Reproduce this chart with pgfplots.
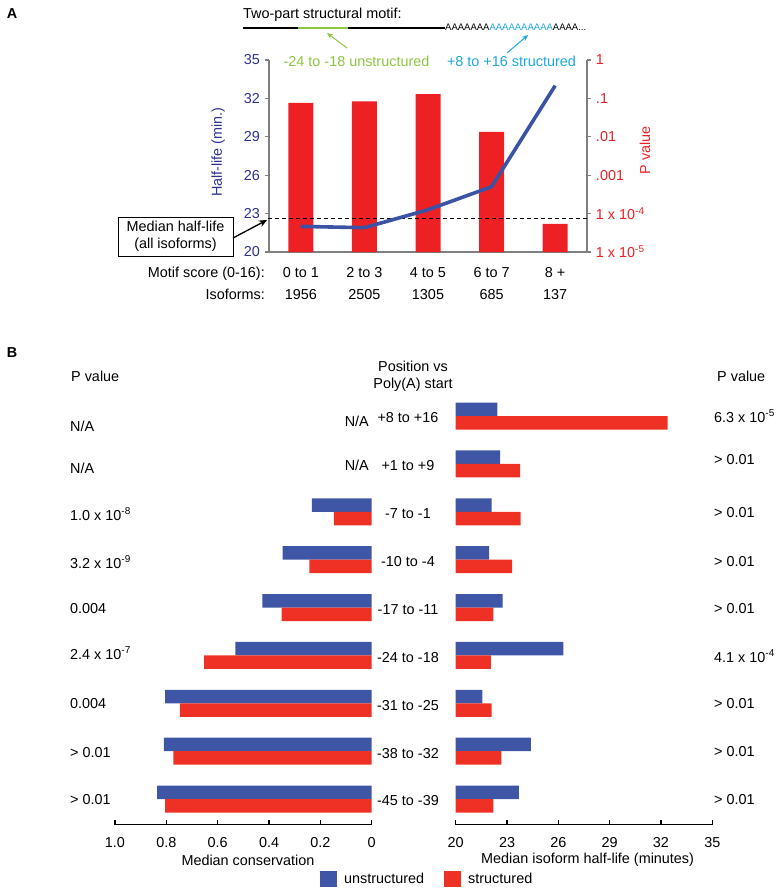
\documentclass[border=0pt]{standalone}
\usepackage{fontspec}
\setmainfont{Liberation Sans}
\usepackage{pgfplots}
\pgfplotsset{compat=1.18}
\usetikzlibrary{arrows.meta}
\definecolor{lineblue}{RGB}{58,83,164}
\definecolor{navy}{RGB}{46,49,146}
\definecolor{pred}{RGB}{237,32,36}
\definecolor{barblue}{RGB}{63,86,166}
\definecolor{barred}{RGB}{238,49,36}
\definecolor{motifgreen}{RGB}{141,198,63}
\definecolor{motifcyan}{RGB}{27,168,224}
\newcommand{\fs}{\fontsize{14.4}{17}\selectfont}
\newcommand{\sups}[1]{\textsuperscript{#1}}
\begin{document}
\fs
\begin{tikzpicture}[every node/.append style={font=\fs}]
\path[use as bounding box] (0pt,0pt) rectangle (781pt,-892pt);
% panel labels
\node[font=\fs\bfseries] at (12pt,-14pt) {A};
\node[font=\fs\bfseries] at (12pt,-353pt) {B};

% ---------------- motif diagram ----------------
\node[anchor=base west, inner sep=0pt, font=\fs] at (243pt,-18pt) {Two-part structural motif:};
\draw[line width=2pt] (243pt,-28pt) -- (298pt,-28pt);
\draw[line width=2pt, motifgreen] (298pt,-28pt) -- (348pt,-28pt);
\draw[line width=2pt] (348pt,-28pt) -- (445pt,-28pt);
\node[anchor=base west, inner sep=0pt, font=\fontsize{9.5}{11}\selectfont] at (445pt,-30.5pt) {AAAAAAA\textcolor{motifcyan}{AAAAAAAAAA}AAAA...};
\draw[motifgreen, line width=1pt, -{Stealth[length=6pt,width=5pt]}] (347pt,-48pt) -- (327pt,-33pt);
\draw[motifcyan, line width=1pt, -{Stealth[length=6pt,width=5pt]}] (507pt,-53pt) -- (528pt,-35pt);
\node[text=motifgreen, anchor=base, inner sep=0pt] at (356.5pt,-66.2pt) {-24 to -18 unstructured};
\node[text=motifcyan, anchor=base, inner sep=0pt] at (511.5pt,-66.2pt) {+8 to +16 structured};

% ---------------- panel A: P value bars (right axis) ----------------
\begin{axis}[
  at={(269pt,-60pt)}, anchor=north west,
  scale only axis, width=318pt, height=192pt,
  xmin=-0.5, xmax=4.5,
  ymode=log, log origin=infty, ymin=1e-5, ymax=1,
  axis x line*=bottom, axis y line*=right,
  axis line style={draw=gray, line width=1.2pt},
  ytick={1e-5,1e-4,1e-3,1e-2,1e-1,1},
  yticklabels={1 x 10\sups{-5},1 x 10\sups{-4},.001,.01,.1,1},
  yminorticks=false,
  yticklabel style={text=pred},
  ytick style={draw=gray, line width=1.2pt},
  xtick style={draw=none},
  major tick length=4pt, tick align=outside,
  xtick={0,1,2,3,4},
  xticklabels={{0 to 1\\1956},{2 to 3\\2505},{4 to 5\\1305},{6 to 7\\685},{8 +\\137}},
  xticklabel style={align=center, font=\fontsize{14.4}{22}\selectfont, anchor=center, yshift=-27.5pt},
  ylabel={P value},
  ylabel style={text=pred, at={(axis description cs:1.182,0.53)}, anchor=center},
]
\addplot[ybar, bar width=25pt, fill=pred, draw=none] coordinates {(0,0.077) (1,0.084) (2,0.13) (3,0.0135) (4,5.4e-5)};
\end{axis}

% ---------------- panel A: half-life line (left axis) ----------------
\begin{axis}[
  at={(269pt,-60pt)}, anchor=north west,
  scale only axis, width=318pt, height=192pt,
  xmin=-0.5, xmax=4.5, ymin=20, ymax=35,
  axis x line=none, axis y line*=left,
  axis line style={draw=gray, line width=1.2pt},
  ytick={20,23,26,29,32,35},
  yticklabel style={text=navy},
  ytick style={draw=gray, line width=1.2pt},
  major tick length=4pt, tick align=outside,
  /pgf/number format/assume math mode=true,
  ylabel={Half-life (min.)},
  ylabel style={text=navy, at={(axis description cs:-0.160,0.52)}, anchor=center},
  clip=false,
]
\addplot[black, line width=1.3pt, dash pattern=on 4pt off 3pt] coordinates {(-0.52,22.6) (4.5,22.6)};
\addplot[lineblue, line width=3.6pt, line join=round] coordinates {(0,22.0) (1,21.9) (2,23.3) (3,25.1) (4,33.0)};
\end{axis}

% median box and arrow
\node[draw, line width=1pt, minimum width=115pt, minimum height=39pt, inner sep=0pt, align=center] at (175.5pt,-236.5pt) {Median half-life\\(all isoforms)};
\draw[line width=1.3pt, -{Stealth[length=8pt,width=7pt]}] (233pt,-238pt) -- (267pt,-220pt);
\node[anchor=base east, inner sep=0pt] at (265pt,-277.7pt) {Motif score (0-16):};
\node[anchor=base east, inner sep=0pt] at (265pt,-299.7pt) {Isoforms:};

% ---------------- panel B: median conservation ----------------
\begin{axis}[
  at={(115pt,-392.06pt)}, anchor=north west,
  scale only axis, width=256.7pt, height=432.8pt,
  x dir=reverse, xmin=0, xmax=1, ymin=-0.54, ymax=8.5,
  axis x line*=bottom, axis y line=none,
  axis line style={black, line width=1.2pt},
  xtick={0,0.2,0.4,0.6,0.8,1}, xticklabels={0,0.2,0.4,0.6,0.8,1.0},
  tick align=inside, major tick length=5pt, tick style={black, line width=1.2pt},
  xticklabel style={anchor=center, yshift=-17.5pt},
  xlabel={Median conservation},
  xlabel style={at={(axis description cs:0.518,-0.081)}, anchor=center},
  xbar, bar width=13.5pt,
  legend style={at={(axis description cs:0.7986,-0.125)}, anchor=west, draw=none, fill=none,
    inner sep=0pt, legend columns=2,
    /tikz/every odd column/.append style={column sep=5pt},
    /tikz/every even column/.append style={column sep=18pt}},
  legend image code/.code={\fill[#1] (0pt,-8pt) rectangle (17pt,8pt);},
]
\addplot[fill=barblue, draw=none, bar shift=6.75pt] coordinates {(0.233,6) (0.347,5) (0.426,4) (0.531,3) (0.805,2) (0.810,1) (0.836,0)};
\addplot[fill=barred, draw=none, bar shift=-6.75pt] coordinates {(0.147,6) (0.243,5) (0.351,4) (0.653,3) (0.747,2) (0.773,1) (0.805,0)};
\legend{unstructured, structured}
\end{axis}

% ---------------- panel B: median half-life ----------------
\begin{axis}[
  at={(455.7pt,-392.06pt)}, anchor=north west,
  scale only axis, width=256.6pt, height=432.8pt,
  xmin=20, xmax=35, ymin=-0.54, ymax=8.5,
  axis x line*=bottom, axis y line*=left,
  axis line style={black, line width=1.2pt},
  y axis line style={draw=none},
  xtick={20,23,26,29,32,35},
  /pgf/number format/assume math mode=true,
  tick align=inside, major tick length=5pt,
  xtick style={black, line width=1.2pt}, ytick style={draw=none},
  xticklabel style={anchor=center, yshift=-17.5pt},
  ytick={0,1,2,3,4,5,6,7,8},
  yticklabels={-45 to -39,-38 to -32,-31 to -25,-24 to -18,-17 to -11,-10 to -4,-7 to -1,+1 to +9,+8 to +16},
  yticklabel style={anchor=center, xshift=-42.7pt, yshift=-2pt},
  xlabel={Median isoform half-life (minutes)},
  xlabel style={at={(axis description cs:0.514,-0.081)}, anchor=center},
  xbar, bar width=13.5pt,
]
\addplot[fill=barblue, draw=none, bar shift=6.75pt] coordinates {(22.43,8) (22.6,7) (22.1,6) (21.95,5) (22.75,4) (26.3,3) (21.56,2) (24.4,1) (23.7,0)};
\addplot[fill=barred, draw=none, bar shift=-6.75pt] coordinates {(32.39,8) (23.76,7) (23.8,6) (23.3,5) (22.2,4) (22.05,3) (22.1,2) (22.67,1) (22.2,0)};
\end{axis}

% ---------------- panel B text columns ----------------
\node[anchor=base west, inner sep=0pt] at (71pt,-381.2pt) {P value};
\node[align=center, inner sep=0pt] at (413pt,-376.5pt) {Position vs\\Poly(A) start};
\node[anchor=base west, inner sep=0pt] at (717pt,-381.2pt) {P value};

\node[anchor=base east, inner sep=0pt] at (369pt,-426.9pt) {N/A};
\node[anchor=base east, inner sep=0pt] at (369pt,-470.2pt) {N/A};

\node[anchor=base west, inner sep=0pt] at (70pt,-431.2pt) {N/A};
\node[anchor=base west, inner sep=0pt] at (70pt,-473.2pt) {N/A};
\node[anchor=base west, inner sep=0pt] at (70pt,-520.2pt) {1.0 x 10\sups{-8}};
\node[anchor=base west, inner sep=0pt] at (70pt,-568.2pt) {3.2 x 10\sups{-9}};
\node[anchor=base west, inner sep=0pt] at (70pt,-613.2pt) {0.004};
\node[anchor=base west, inner sep=0pt] at (70pt,-659.2pt) {2.4 x 10\sups{-7}};
\node[anchor=base west, inner sep=0pt] at (70pt,-708.2pt) {0.004};
\node[anchor=base west, inner sep=0pt] at (70pt,-757.2pt) {> 0.01};
\node[anchor=base west, inner sep=0pt] at (70pt,-804.2pt) {> 0.01};

\node[anchor=base west, inner sep=0pt] at (714pt,-422.2pt) {6.3 x 10\sups{-5}};
\node[anchor=base west, inner sep=0pt] at (714pt,-464.2pt) {> 0.01};
\node[anchor=base west, inner sep=0pt] at (714pt,-517.2pt) {> 0.01};
\node[anchor=base west, inner sep=0pt] at (714pt,-566.2pt) {> 0.01};
\node[anchor=base west, inner sep=0pt] at (714pt,-613.2pt) {> 0.01};
\node[anchor=base west, inner sep=0pt] at (714pt,-662.2pt) {4.1 x 10\sups{-4}};
\node[anchor=base west, inner sep=0pt] at (714pt,-708.2pt) {> 0.01};
\node[anchor=base west, inner sep=0pt] at (714pt,-756.2pt) {> 0.01};
\node[anchor=base west, inner sep=0pt] at (714pt,-804.2pt) {> 0.01};
\end{tikzpicture}
\end{document}
